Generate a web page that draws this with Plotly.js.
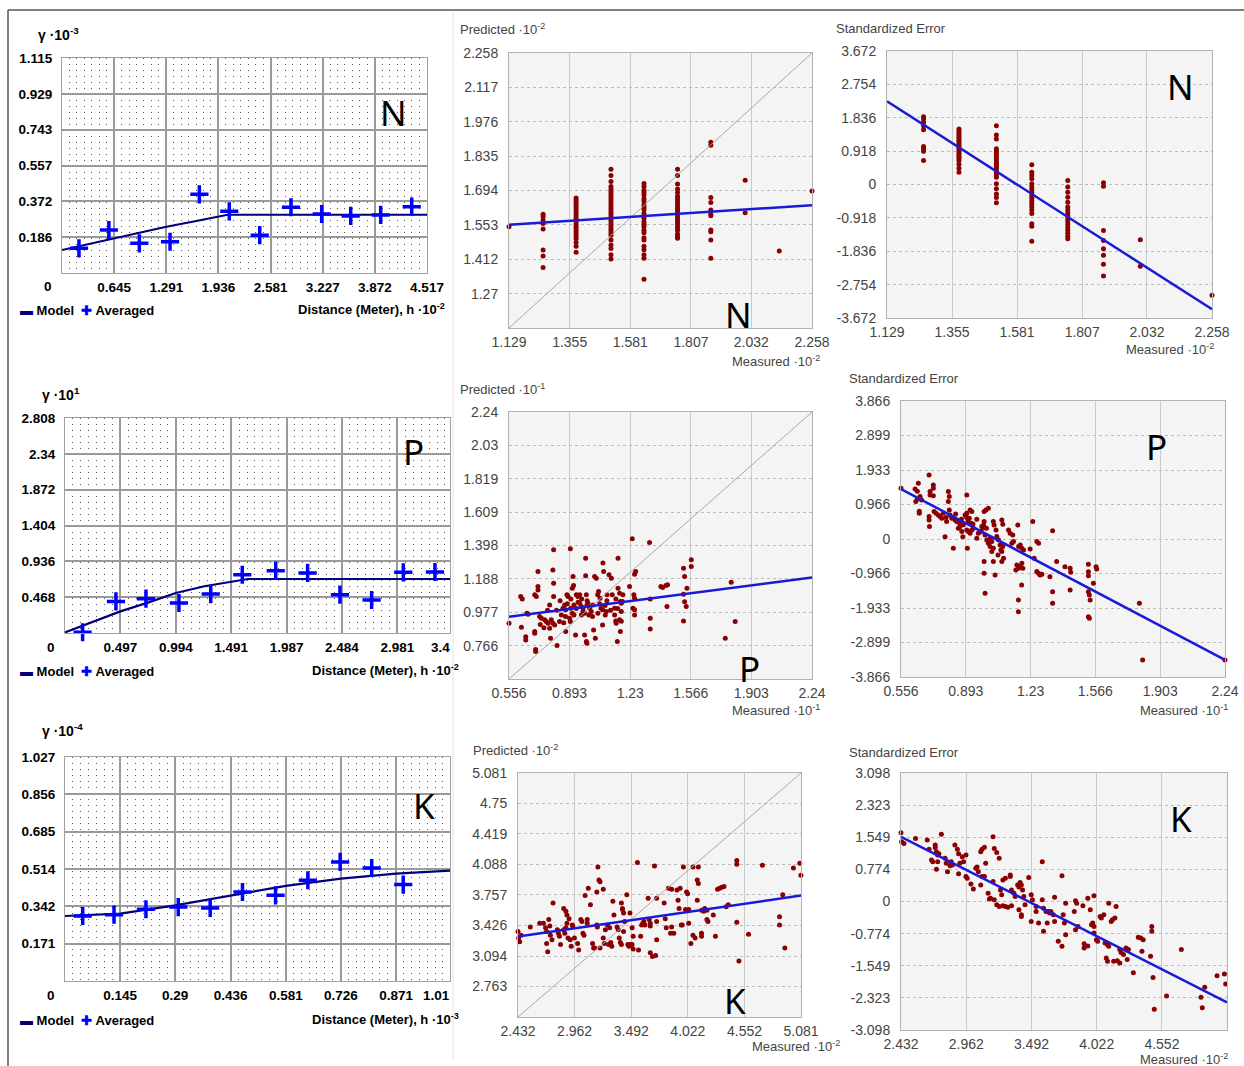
<!DOCTYPE html>
<html>
<head>
<meta charset="utf-8">
<script src="https://cdn.plot.ly/plotly-3.0.1.min.js"></script>
<style>html,body{margin:0;padding:0;background:#fff;}#chart{width:1244px;height:1066px;}</style>
</head>
<body>
<div id="chart"></div>
<script>
// ---------------- DATA ----------------
// Semivariogram N
const nLagX = [0.21,0.58,0.957,1.337,1.70,2.07,2.447,2.834,3.214,3.573,3.944,4.328];
const nLagY = [0.128,0.223,0.154,0.162,0.408,0.320,0.196,0.341,0.306,0.296,0.301,0.344];
const nModelX = [0,0.323,0.645,0.968,1.291,1.614,1.936,2.05,4.517];
const nModelY = [0.119,0.15,0.182,0.212,0.24,0.266,0.29,0.302,0.302];
const nSvXLabels = ['0.645','1.291','1.936','2.581','3.227','3.872','4.517'];
const nSvYLabels = ['0.186','0.372','0.557','0.743','0.929','1.115'];
// Semivariogram P
const pLagX = [0.158,0.457,0.726,1.022,1.307,1.59,1.89,2.176,2.466,2.75,3.034,3.318];
const pLagY = [0.01,0.413,0.448,0.392,0.509,0.761,0.814,0.784,0.50,0.431,0.792,0.797];
const pModelX = [0,0.25,0.497,0.75,0.994,1.25,1.491,1.64,3.6];
const pModelY = [0.008,0.15,0.282,0.40,0.522,0.61,0.67,0.705,0.705];
const pSvXLabels = ['0.497','0.994','1.491','1.987','2.484','2.981'];
const pSvYLabels = ['0.468','0.936','1.404','1.872','2.34','2.808'];
// Semivariogram K
const kLagX = [0.0466,0.129,0.213,0.298,0.382,0.467,0.554,0.639,0.724,0.807,0.89];
const kLagY = [0.298,0.304,0.329,0.339,0.335,0.408,0.393,0.462,0.546,0.518,0.442];
const kModelX = [0,0.145,0.29,0.436,0.581,0.726,0.871,1.03];
const kModelY = [0.298,0.309,0.347,0.393,0.436,0.469,0.492,0.508];
const kSvXLabels = ['0.145','0.29','0.436','0.581','0.726','0.871'];
const kSvYLabels = ['0.171','0.342','0.514','0.685','0.856','1.027'];
// last x tick labels, cut off at the panel edge in the picture
const pSvCutLabel = '3.4';
const kSvCutLabel = '1.01';

// N cross-validation (values grouped by measured level)
const nLevels = [1.129,1.256,1.379,1.509,1.632,1.757,1.881,2.009,2.136,2.258];
const nPredCols = [
  [1.545],
  [1.596,1.588,1.572,1.558,1.535,1.449,1.425,1.377],
  [1.663,1.655,1.645,1.635,1.625,1.615,1.605,1.596,1.585,1.575,1.565,1.555,1.545,1.535,1.525,1.515,1.505,1.495,1.48,1.465,1.44],
  [1.781,1.755,1.73,1.71,1.70,1.69,1.68,1.67,1.66,1.65,1.64,1.63,1.62,1.61,1.60,1.59,1.58,1.57,1.56,1.55,1.54,1.53,1.52,1.51,1.49,1.47,1.455,1.43,1.412],
  [1.722,1.71,1.695,1.685,1.675,1.66,1.65,1.635,1.625,1.615,1.60,1.59,1.58,1.565,1.555,1.545,1.53,1.52,1.50,1.49,1.465,1.45,1.43,1.415,1.329],
  [1.781,1.755,1.72,1.70,1.685,1.67,1.66,1.65,1.64,1.63,1.62,1.61,1.60,1.59,1.58,1.57,1.56,1.55,1.54,1.53,1.515,1.505,1.497],
  [1.892,1.879,1.665,1.644,1.613,1.596,1.590,1.531,1.524,1.490,1.415],
  [1.736,1.602],
  [1.445],
  [1.691]
];
const nErrCols = [
  [],
  [1.866,1.803,1.710,1.619,1.509,1.043,0.980,0.914,0.659],
  [1.528,1.47,1.42,1.37,1.32,1.27,1.22,1.17,1.12,1.07,1.02,0.97,0.92,0.87,0.82,0.77,0.72,0.65,0.56,0.45,0.338],
  [1.619,1.364,1.254,0.98,0.92,0.86,0.80,0.74,0.68,0.62,0.56,0.50,0.44,0.38,0.32,0.26,0.20,0.02,-0.12,-0.26,-0.36,-0.50],
  [0.54,0.34,0.25,0.16,0.02,-0.06,-0.14,-0.22,-0.30,-0.38,-0.46,-0.54,-0.62,-0.70,-0.80,-1.08,-1.15,-1.56],
  [0.11,-0.07,-0.21,-0.35,-0.49,-0.62,-0.70,-0.78,-0.86,-0.94,-1.02,-1.10,-1.18,-1.26,-1.34,-1.42,-1.49],
  [0.047,-0.047,-1.262,-1.537,-1.765,-1.948,-2.195,-2.516],
  [-1.518,-2.250],
  [-3.71],
  [-3.046]
];
const nPredFitY = [1.553,1.633];
const nErrFitY = [2.286,-3.43];
const nPredXLabels = ['1.129','1.355','1.581','1.807','2.032','2.258'];
const nPredYLabels = ['1.27','1.412','1.553','1.694','1.835','1.976','2.117','2.258'];
const nErrYLabels = ['-3.672','-2.754','-1.836','-0.918','0','0.918','1.836','2.754','3.672'];

// P cross-validation: [measured, predicted]
const pPredPts = [
 [0.556,0.908],[0.621,1.076],[0.630,1.061],[0.625,0.882],[0.649,0.823],[0.649,0.802],[0.656,0.971],[0.662,0.964],
 [0.717,1.234],[0.699,1.087],[0.708,1.076],[0.699,0.855],[0.699,0.844],[0.704,0.729],[0.704,0.742],[0.717,1.139],
 [0.717,1.118],[0.726,0.950],[0.736,0.939],[0.754,0.929],[0.763,0.918],[0.773,0.908],[0.782,0.876],[0.787,0.813],
 [0.800,1.244],[0.804,1.371],[0.804,1.160],[0.804,1.076],[0.791,0.929],[0.800,0.908],[0.810,0.897],[0.782,1.023],
 [0.823,0.767],[0.837,0.918],[0.847,0.960],[0.856,1.002],[0.865,1.023],[0.871,0.992],[0.871,0.855],[0.878,1.087],
 [0.884,1.076],[0.893,0.939],[0.897,0.918],[0.897,1.377],[0.908,1.129],[0.915,1.145],[0.912,1.202],[0.899,1.002],
 [0.908,0.971],[0.917,1.023],[0.917,0.960],[0.926,0.834],[0.930,1.087],[0.939,1.076],[0.949,1.087],[0.949,1.034],
 [0.958,1.013],[0.967,1.002],[0.958,0.960],[0.967,0.981],[0.976,0.971],[0.982,1.318],[0.982,1.207],[0.976,0.834],
 [0.986,0.792],[0.989,0.781],[0.986,1.087],[0.989,1.023],[0.995,1.034],[1.004,1.002],[1.013,0.981],[1.023,1.023],
 [1.026,0.865],[1.036,0.813],[1.032,1.202],[1.041,1.192],[1.049,1.087],[1.054,1.108],[1.062,1.066],[1.067,1.002],
 [1.076,0.992],[1.076,0.897],[1.078,1.287],[1.082,1.234],[1.091,0.960],[1.097,0.981],[1.101,1.087],[1.112,1.213],
 [1.125,1.192],[1.130,1.087],[1.143,1.002],[1.143,0.960],[1.149,0.922],[1.152,0.908],[1.158,0.792],[1.162,1.318],
 [1.162,1.129],[1.171,1.097],[1.175,1.045],[1.180,1.034],[1.180,0.981],[1.186,1.045],[1.175,0.855],[1.189,1.087],
 [1.226,1.139],[1.241,1.440],[1.245,1.002],[1.254,0.992],[1.254,0.960],[1.254,1.217],[1.260,1.234],[1.250,1.087],
 [1.254,1.066],[1.337,1.417],[1.341,1.061],[1.341,0.939],[1.341,0.872],[1.400,1.139],[1.410,1.133],[1.428,1.145],
 [1.437,1.150],[1.434,1.013],[1.526,1.255],[1.532,1.202],[1.526,1.091],[1.532,1.044],[1.526,0.922],[1.545,1.129],
 [1.541,1.013],[1.569,1.308],[1.569,1.266],[1.758,0.813],[1.791,1.167],[1.813,0.918],[2.241,1.192],
 [0.93,1.00],[0.94,1.04],[0.96,1.06],[0.99,1.05],[1.00,0.96],[1.02,0.95],[1.05,0.97],[1.06,1.03],[1.09,1.02],
 [1.10,1.05],[1.12,0.99],[1.15,1.06],[1.16,1.00],[1.17,0.93],[1.18,0.92],[0.87,0.95],[0.88,1.03],[0.86,0.91],
 [0.73,0.90],[0.75,0.88],[0.77,0.99],[0.82,0.99],[0.84,1.05],[0.90,1.06]
];
const pErrPts = [
 [0.556,1.42],[0.629,1.40],[0.641,1.34],[0.646,1.56],[0.633,1.05],[0.641,1.12],[0.651,0.78],[0.651,0.72],[0.655,1.19],
 [0.663,1.09],[0.702,1.79],[0.702,0.63],[0.702,0.53],[0.704,0.35],[0.707,1.23],[0.707,1.33],[0.724,1.51],[0.724,1.42],
 [0.724,1.21],[0.728,0.77],[0.738,0.72],[0.750,0.67],[0.759,0.63],[0.768,0.58],[0.776,0.72],[0.785,0.065],[0.793,0.49],
 [0.802,1.33],[0.807,1.19],[0.802,1.05],[0.807,0.81],[0.811,0.67],[0.828,-0.26],[0.837,0.53],[0.846,0.49],[0.854,0.30],
 [0.863,0.35],[0.872,0.21],[0.877,0.065],[0.889,0.67],[0.894,0.63],[0.898,0.72],[0.901,0.58],[0.906,0.49],[0.911,0.58],
 [0.898,1.23],[0.901,-0.26],[0.898,0.25],[0.906,0.21],[0.915,0.16],[0.924,0.25],[0.932,0.30],[0.915,0.81],[0.924,0.77],
 [0.920,0.44],[0.950,0.02],[0.958,0.16],[0.976,0.35],[0.981,0.30],[0.985,0.39],[0.988,0.49],[0.988,0.77],[0.997,0.81],
 [0.988,-0.63],[0.988,-0.96],[0.993,-1.52],[0.993,0.11],[1.002,-0.03],[1.010,-0.12],[1.019,0.02],[1.028,-0.07],[1.010,0.86],
 [1.019,-0.21],[1.028,-0.35],[1.036,-0.26],[1.036,0.49],[1.040,0.39],[1.036,-0.63],[1.045,-1.01],[1.054,0.07],[1.063,-0.03],
 [1.071,-0.17],[1.075,-0.31],[1.080,-0.35],[1.085,-0.21],[1.080,0.53],[1.085,0.41],[1.080,-0.63],[1.089,-0.54],[1.115,0.25],
 [1.123,0.16],[1.132,-0.12],[1.141,-0.07],[1.137,0.11],[1.153,-0.87],[1.158,-0.73],[1.167,-0.82],[1.176,-0.78],[1.184,-0.68],
 [1.189,-0.82],[1.163,0.39],[1.167,-0.21],[1.176,-0.17],[1.184,-0.26],[1.193,-0.31],[1.166,-1.71],[1.166,-2.04],[1.183,-1.29],
 [1.227,-0.28],[1.241,0.49],[1.248,-0.54],[1.262,-0.07],[1.271,-0.12],[1.262,-0.91],[1.271,-0.96],[1.279,-1.01],[1.288,-0.99],
 [1.330,-1.06],[1.344,0.23],[1.344,-1.48],[1.344,-1.80],[1.365,-0.63],[1.408,-0.78],[1.435,-0.82],[1.438,-0.93],[1.435,-1.43],
 [1.530,-0.71],[1.530,-0.92],[1.530,-1.03],[1.530,-1.48],[1.535,-1.57],[1.539,-1.71],[1.530,-2.18],[1.535,-2.22],[1.556,-1.24],
 [1.570,-0.78],[1.573,-0.84],[1.795,-1.80],[1.812,-3.39],[1.764,-3.90],[2.240,-3.39],
 [0.86,0.45],[0.88,0.40],[0.93,0.42],[0.95,0.55],[0.97,0.20],[1.00,0.30],[1.05,0.25],[1.06,-0.45],[0.79,0.60],[0.82,0.58],
 [0.84,0.70],[0.87,0.55]
];
const pPredFitY = [0.949,1.196];
const pErrFitY = [1.40,-3.39];
const pPredXLabels = ['0.556','0.893','1.23','1.566','1.903','2.24'];
const pPredYLabels = ['0.766','0.977','1.188','1.398','1.609','1.819','2.03','2.24'];
const pErrYLabels = ['-3.866','-2.899','-1.933','-0.966','0','0.966','1.933','2.899','3.866'];

// K cross-validation: [measured, predicted]
const kPredPts = [
 [2.432,3.36],[2.438,3.29],[2.448,3.25],[2.460,3.32],[2.547,3.41],[2.635,3.45],[2.67,3.45],[2.69,3.40],[2.70,3.36],
 [2.70,3.23],[2.71,3.14],[2.72,3.49],[2.73,3.42],[2.735,3.32],[2.75,3.27],[2.76,3.67],[2.80,3.38],[2.81,3.34],[2.82,3.31],
 [2.83,3.22],[2.86,3.61],[2.88,3.58],[2.86,3.38],[2.87,3.34],[2.88,3.40],[2.89,3.45],[2.89,3.54],[2.91,3.50],[2.90,3.29],
 [2.92,3.27],[2.93,3.20],[2.94,3.43],[2.945,3.42],[2.96,3.29],[2.99,3.23],[3.00,3.16],[3.02,3.49],[3.03,3.47],[3.04,3.34],
 [3.05,3.32],[3.06,3.75],[3.08,3.49],[3.08,3.45],[3.09,3.83],[3.11,3.65],[3.13,3.23],[3.14,3.18],[3.15,3.18],[3.17,3.43],
 [3.175,3.41],[3.17,3.79],[3.18,4.06],[3.19,3.92],[3.20,3.90],[3.23,3.82],[3.20,3.18],[3.23,3.29],[3.24,3.23],[3.25,3.38],
 [3.27,3.43],[3.29,3.40],[3.28,3.22],[3.30,3.24],[3.31,3.20],[3.32,3.69],[3.33,3.54],[3.36,3.41],[3.37,3.38],[3.38,3.29],
 [3.39,3.24],[3.40,3.22],[3.40,3.67],[3.41,3.61],[3.41,3.60],[3.42,3.56],[3.42,3.36],[3.43,3.47],[3.45,3.76],[3.46,3.22],
 [3.47,3.20],[3.48,3.22],[3.48,3.56],[3.50,3.40],[3.51,3.31],[3.51,3.17],[3.50,3.22],[3.55,4.11],[3.56,3.16],[3.58,3.31],
 [3.59,3.43],[3.60,3.45],[3.61,3.47],[3.62,3.43],[3.65,3.72],[3.66,3.49],[3.67,3.42],[3.67,3.45],[3.67,3.13],[3.69,3.09],
 [3.71,4.07],[3.72,3.10],[3.73,3.72],[3.73,3.27],[3.73,3.47],[3.80,3.67],[3.81,3.50],[3.82,3.40],[3.84,3.83],[3.86,3.34],
 [3.87,3.41],[3.87,3.82],[3.89,3.34],[3.92,3.81],[3.93,3.70],[3.94,3.61],[3.95,3.83],[3.96,3.43],[3.97,3.43],[3.98,4.06],
 [4.00,3.60],[4.01,3.79],[4.02,3.77],[4.03,3.60],[4.03,3.45],[4.05,3.23],[4.07,4.06],[4.12,4.06],[4.07,3.32],[4.09,3.29],
 [4.11,3.92],[4.12,3.88],[4.11,3.70],[4.15,3.59],[4.17,3.58],[4.18,3.61],[4.20,3.59],[4.15,3.34],[4.15,3.31],[4.20,3.49],
 [4.21,3.47],[4.26,3.54],[4.28,3.31],[4.30,3.82],[4.32,3.83],[4.34,3.84],[4.36,3.85],[4.38,3.63],[4.40,3.65],[4.48,4.13],
 [4.48,4.09],[4.48,3.46],[4.50,3.04],[4.59,3.33],[4.72,4.08],[4.88,3.52],[4.88,3.43],[4.91,3.76],[4.93,3.18],[5.01,4.05],
 [5.07,4.10],[5.08,3.97]
];
const kErrPts = [
 [2.432,1.66],[2.437,1.44],[2.456,1.40],[2.55,1.52],[2.645,1.48],[2.66,1.26],[2.68,1.00],[2.69,0.96],[2.71,1.36],[2.71,1.30],
 [2.72,1.20],[2.73,1.12],[2.74,1.15],[2.72,0.78],[2.73,0.96],[2.76,1.62],[2.79,1.04],[2.80,0.92],[2.81,0.72],[2.83,0.86],
 [2.84,0.96],[2.85,0.88],[2.87,1.36],[2.89,1.26],[2.90,1.15],[2.90,0.67],[2.91,0.92],[2.93,1.08],[2.94,0.96],[2.96,1.12],
 [2.96,0.60],[2.97,0.56],[3.00,0.42],[3.02,0.30],[3.04,0.80],[3.05,0.83],[3.06,0.72],[3.08,1.20],[3.09,1.26],[3.11,1.31],
 [3.08,0.40],[3.09,0.60],[3.11,0.60],[3.12,0.92],[3.14,0.20],[3.15,0.06],[3.16,0.08],[3.18,0.48],[3.18,1.56],[3.19,1.28],
 [3.21,1.18],[3.23,1.04],[3.19,0.04],[3.21,-0.08],[3.23,-0.12],[3.24,0.28],[3.25,0.16],[3.26,0.52],[3.28,0.56],[3.26,-0.10],
 [3.28,-0.12],[3.30,-0.14],[3.33,-0.10],[3.32,0.64],[3.32,0.60],[3.33,0.28],[3.35,0.20],[3.36,0.12],[3.38,0.40],[3.39,0.35],
 [3.40,0.46],[3.41,0.40],[3.42,0.28],[3.39,-0.20],[3.41,-0.32],[3.41,-0.36],[3.43,0.12],[3.44,-0.08],[3.47,0.58],[3.49,-0.48],
 [3.49,0.16],[3.50,0.04],[3.53,-0.12],[3.53,-0.24],[3.55,-0.52],[3.58,0.96],[3.58,0.04],[3.59,-0.16],[3.61,-0.24],[3.59,-0.72],
 [3.62,-0.52],[3.63,-0.24],[3.64,-0.28],[3.65,-0.24],[3.67,-0.32],[3.68,-0.48],[3.68,0.10],[3.71,-0.96],[3.74,-1.08],[3.74,0.62],
 [3.75,-0.32],[3.76,-0.52],[3.77,-0.04],[3.77,-0.80],[3.84,-0.24],[3.85,0.02],[3.86,-0.04],[3.85,-0.68],[3.87,-0.60],[3.91,-0.10],
 [3.92,-1.02],[3.92,-1.12],[3.95,-1.07],[3.95,0.08],[3.97,-0.20],[3.98,-0.56],[3.99,-0.52],[4.00,-0.60],[4.00,0.14],[4.00,-0.76],
 [4.02,-0.92],[4.03,-0.96],[4.05,-0.36],[4.06,-0.40],[4.08,-0.32],[4.09,-1.00],[4.11,-1.04],[4.12,-1.08],[4.10,-1.36],[4.11,-1.44],
 [4.12,-0.04],[4.14,-0.48],[4.15,-0.44],[4.17,-0.40],[4.18,-0.12],[4.16,-1.44],[4.19,-1.43],[4.21,-1.48],[4.21,-1.16],[4.22,-1.23],
 [4.24,-1.28],[4.26,-1.12],[4.28,-1.16],[4.27,-1.40],[4.32,-1.72],[4.36,-0.86],[4.38,-0.88],[4.40,-0.92],[4.39,-1.20],[4.46,-1.32],
 [4.47,-0.60],[4.47,-0.72],[4.48,-1.83],[4.49,-2.60],[4.59,-2.28],[4.71,-1.16],[4.87,-2.31],[4.88,-2.56],[4.90,-2.07],[4.91,-3.11],
 [5.00,-1.79],[5.06,-1.75],[5.07,-1.99]
];
const kPredFitY = [3.306,3.750];
const kErrFitY = [1.56,-2.43];
const kPredXLabels = ['2.432','2.962','3.492','4.022','4.552','5.081'];
const kPredYLabels = ['2.763','3.094','3.426','3.757','4.088','4.419','4.75','5.081'];
const kErrYLabels = ['-3.098','-2.323','-1.549','-0.774','0','0.774','1.549','2.323','3.098'];

// ---------------- LAYOUT HELPERS ----------------
const W = 1244, H = 1066;
const fx = p => p / W;
const fy = p => (H - p) / H;
const dX = (a, b) => [fx(a), fx(b)];
const dY = (top, bot) => [fy(bot), fy(top)];
const SV = '"Liberation Sans", Arial, sans-serif';
const CV = '"Liberation Sans", Arial, sans-serif';
const RED = '#8b0000';
const FIT = '#1a1ad6';

function flatCols(levels, cols) {
  const x = [], y = [];
  cols.forEach((c, i) => c.forEach(v => { x.push(levels[i]); y.push(v); }));
  return { x, y };
}
const col = (pts, i) => pts.map(p => p[i]);
const ends = labels => [Number(labels[0]), Number(labels[labels.length - 1])];

const svTick = { family: SV, size: 13.5, color: '#000', weight: 'bold' };
function svX(dom, max, labels, anchor) {
  const vals = labels.map(Number);
  return {
    domain: dom, range: [0, max], anchor, tickmode: 'array', tickvals: vals, ticktext: labels,
    ticks: '', showgrid: true, gridcolor: '#9a9a9a', gridwidth: 2, zeroline: false,
    showline: true, linecolor: '#a0a0a0', linewidth: 1, mirror: true,
    tickfont: svTick, ticklabelstandoff: 2, fixedrange: true,
    minor: { tickmode: 'linear', tick0: 0, dtick: vals[0] / 7, showgrid: true, gridcolor: '#5a5a5a',
             griddash: '1px,5px', gridwidth: 1, ticks: '' }
  };
}
function svY(dom, max, labels, anchor) {
  const vals = labels.map(Number);
  return {
    domain: dom, range: [0, max], anchor, tickmode: 'array', tickvals: vals, ticktext: labels,
    ticks: '', showgrid: true, gridcolor: '#9a9a9a', gridwidth: 2, zeroline: false,
    showline: true, linecolor: '#a0a0a0', linewidth: 1, mirror: true,
    tickfont: svTick, ticklabelstandoff: 6, fixedrange: true
  };
}
function cvX(dom, range, labels, anchor) {
  return {
    domain: dom, range, anchor, tickmode: 'array', tickvals: labels.map(Number), ticktext: labels,
    ticks: '', showgrid: true, gridcolor: '#cacaca', gridwidth: 1, zeroline: false,
    showline: true, linecolor: '#b2b2b2', linewidth: 1, mirror: true,
    tickfont: { family: CV, size: 14, color: '#444' }, ticklabelstandoff: 1, fixedrange: true
  };
}
function cvY(dom, range, labels, anchor) {
  return {
    domain: dom, range, anchor, tickmode: 'array', tickvals: labels.map(Number), ticktext: labels,
    ticks: '', showgrid: true, gridcolor: '#bdbdbd', gridwidth: 1, griddash: 'dot', zeroline: false,
    showline: true, linecolor: '#b2b2b2', linewidth: 1, mirror: true,
    tickfont: { family: CV, size: 14, color: '#444' }, ticklabelstandoff: 7, fixedrange: true
  };
}

// ---------------- TRACES ----------------
const traces = [];
function semivar(mx, my, lx, ly, xa, ya) {
  traces.push({ x: mx, y: my, xaxis: xa, yaxis: ya, mode: 'lines', line: { color: '#00007a', width: 2.2 }, hoverinfo: 'skip' });
  traces.push({ x: lx, y: ly, xaxis: xa, yaxis: ya, mode: 'markers', cliponaxis: false,
    marker: { symbol: 'cross-thin', size: 13, line: { color: '#0000ff', width: 3.5 } } });
}
function crossval(px, py, xr, fitY, xa, ya, diag) {
  traces.push({ x: px, y: py, xaxis: xa, yaxis: ya, mode: 'markers', cliponaxis: false,
    marker: { color: RED, size: 5, line: { width: 0 } } });
  if (diag) traces.push({ x: xr, y: xr, xaxis: xa, yaxis: ya, mode: 'lines', line: { color: '#a8a8a8', width: 1 } });
  traces.push({ x: xr, y: fitY, xaxis: xa, yaxis: ya, mode: 'lines', line: { color: FIT, width: 2.5 } });
}

semivar(nModelX, nModelY, nLagX, nLagY, 'x', 'y');
semivar(pModelX, pModelY, pLagX, pLagY, 'x4', 'y4');
semivar(kModelX, kModelY, kLagX, kLagY, 'x7', 'y7');

const nP = flatCols(nLevels, nPredCols);
const nE = flatCols(nLevels, nErrCols);
crossval(nP.x, nP.y, ends(nPredXLabels), nPredFitY, 'x2', 'y2', true);
crossval(nE.x, nE.y, ends(nPredXLabels), nErrFitY, 'x3', 'y3', false);
crossval(col(pPredPts, 0), col(pPredPts, 1), ends(pPredXLabels), pPredFitY, 'x5', 'y5', true);
crossval(col(pErrPts, 0), col(pErrPts, 1), ends(pPredXLabels), pErrFitY, 'x6', 'y6', false);
crossval(col(kPredPts, 0), col(kPredPts, 1), ends(kPredXLabels), kPredFitY, 'x8', 'y8', true);
crossval(col(kErrPts, 0), col(kErrPts, 1), ends(kPredXLabels), kErrFitY, 'x9', 'y9', false);

// ---------------- LAYOUT ----------------
const layout = {
  width: W, height: H, margin: { l: 0, r: 0, t: 0, b: 0, pad: 0 },
  paper_bgcolor: '#ffffff', plot_bgcolor: 'rgba(0,0,0,0)', showlegend: false,
  xaxis: svX(dX(62, 427), 4.517, nSvXLabels, 'y'),
  yaxis: svY(dY(58, 273), 1.115, nSvYLabels, 'x'),
  xaxis4: svX(dX(65, 450), 3.453, pSvXLabels, 'y4'),
  yaxis4: svY(dY(418, 633), 2.808, pSvYLabels, 'x4'),
  xaxis7: svX(dX(65, 450), 1.013, kSvXLabels, 'y7'),
  yaxis7: svY(dY(757, 981), 1.027, kSvYLabels, 'x7'),
  xaxis2: cvX(dX(509, 812), ends(nPredXLabels), nPredXLabels, 'y2'),
  yaxis2: cvY(dY(53, 328), ends(nPredXLabels), nPredYLabels, 'x2'),
  xaxis3: cvX(dX(887, 1212), ends(nPredXLabels), nPredXLabels, 'y3'),
  yaxis3: cvY(dY(51, 318), ends(nErrYLabels), nErrYLabels, 'x3'),
  xaxis5: cvX(dX(509, 812), ends(pPredXLabels), pPredXLabels, 'y5'),
  yaxis5: cvY(dY(412, 679), ends(pPredXLabels), pPredYLabels, 'x5'),
  xaxis6: cvX(dX(901, 1225), ends(pPredXLabels), pPredXLabels, 'y6'),
  yaxis6: cvY(dY(401, 677), ends(pErrYLabels), pErrYLabels, 'x6'),
  xaxis8: cvX(dX(518, 801), ends(kPredXLabels), kPredXLabels, 'y8'),
  yaxis8: cvY(dY(773, 1017), ends(kPredXLabels), kPredYLabels, 'x8'),
  xaxis9: cvX(dX(901, 1227), ends(kPredXLabels), kPredXLabels, 'y9'),
  yaxis9: cvY(dY(773, 1030), ends(kErrYLabels), kErrYLabels, 'x9'),
  shapes: [],
  annotations: []
};

// grey backgrounds of cross-validation panels
[2, 3, 5, 6, 8, 9].forEach(i => layout.shapes.push({
  type: 'rect', xref: 'x' + i + ' domain', yref: 'y' + i + ' domain', x0: 0, x1: 1, y0: 0, y1: 1,
  fillcolor: '#f4f4f4', line: { width: 0 }, layer: 'below'
}));
// frame lines
layout.shapes.push({ type: 'line', xref: 'paper', yref: 'paper', x0: fx(8), x1: 1, y0: fy(10), y1: fy(10), line: { color: '#555', width: 1.5 } });
layout.shapes.push({ type: 'line', xref: 'paper', yref: 'paper', x0: fx(8), x1: fx(8), y0: 0, y1: fy(10), line: { color: '#555', width: 1.5 } });
layout.shapes.push({ type: 'line', xref: 'paper', yref: 'paper', x0: fx(453), x1: fx(453), y0: fy(1060), y1: fy(12), line: { color: '#e4e4e4', width: 1 } });

function ann(text, x, y, opts) {
  layout.annotations.push(Object.assign({ text, x: fx(x), y: fy(y), xref: 'paper', yref: 'paper', showarrow: false,
    xanchor: 'left', yanchor: 'middle' }, opts || {}));
}
const svFont = { family: SV, size: 13.5, color: '#000', weight: 'bold' };
const svTitle = { family: SV, size: 14, color: '#000', weight: 'bold' };
const svSmall = { family: SV, size: 13, color: '#000', weight: 'bold' };
const cvFont = { family: CV, size: 13, color: '#444' };
const bigFont = { family: '"Noto Sans", "Open Sans", sans-serif', size: 35, color: '#000' };
const legendTxt = '<span style="color:#00007a">▬</span> Model  <span style="color:#0000ff">✚</span> Averaged';

// Row N
ann('γ ·10<sup>-3</sup>', 36, 34, { font: svTitle });
ann('0', 48, 286, { font: svFont, xanchor: 'center' });
ann(legendTxt, 18, 310, { font: svSmall });
ann('Distance (Meter), h ·10<sup>-2</sup>', 447, 309, { font: svSmall, xanchor: 'right' });
ann('N', 393, 113, { font: bigFont, xanchor: 'center' });
ann('Predicted ·10<sup>-2</sup>', 458, 29, { font: cvFont });
ann('Measured ·10<sup>-2</sup>', 730, 361, { font: cvFont });
ann('N', 738, 314, { font: bigFont, xanchor: 'center' });
ann('Standardized Error', 834, 29, { font: cvFont });
ann('Measured ·10<sup>-2</sup>', 1124, 349, { font: cvFont });
ann('N', 1180, 86, { font: bigFont, xanchor: 'center' });

// Row P
ann('γ ·10<sup>1</sup>', 40, 394, { font: svTitle });
ann('0', 51, 647, { font: svFont, xanchor: 'center' });
ann(pSvCutLabel, 452, 647, { font: svFont, xanchor: 'right' });
ann(legendTxt, 18, 671, { font: svSmall });
ann('Distance (Meter), h ·10<sup>-2</sup>', 310, 670, { font: svSmall });
ann('P', 413, 452, { font: bigFont, xanchor: 'center' });
ann('Predicted ·10<sup>-1</sup>', 458, 389, { font: cvFont });
ann('Measured ·10<sup>-1</sup>', 730, 710, { font: cvFont });
ann('P', 749, 668, { font: bigFont, xanchor: 'center' });
ann('Standardized Error', 847, 378, { font: cvFont });
ann('Measured ·10<sup>-1</sup>', 1138, 710, { font: cvFont });
ann('P', 1156, 446, { font: bigFont, xanchor: 'center' });

// Row K
ann('γ ·10<sup>-4</sup>', 40, 730, { font: svTitle });
ann('0', 51, 995, { font: svFont, xanchor: 'center' });
ann(kSvCutLabel, 452, 995, { font: svFont, xanchor: 'right' });
ann(legendTxt, 18, 1020, { font: svSmall });
ann('Distance (Meter), h ·10<sup>-3</sup>', 310, 1019, { font: svSmall });
ann('K', 424, 805, { font: bigFont, xanchor: 'center' });
ann('Predicted ·10<sup>-2</sup>', 471, 750, { font: cvFont });
ann('Measured ·10<sup>-2</sup>', 750, 1046, { font: cvFont });
ann('K', 735, 1001, { font: bigFont, xanchor: 'center' });
ann('Standardized Error', 847, 752, { font: cvFont });
ann('Measured ·10<sup>-2</sup>', 1138, 1059, { font: cvFont });
ann('K', 1181, 818, { font: bigFont, xanchor: 'center' });

Plotly.newPlot('chart', traces, layout, { staticPlot: true, displayModeBar: false });
</script>
</body>
</html>
